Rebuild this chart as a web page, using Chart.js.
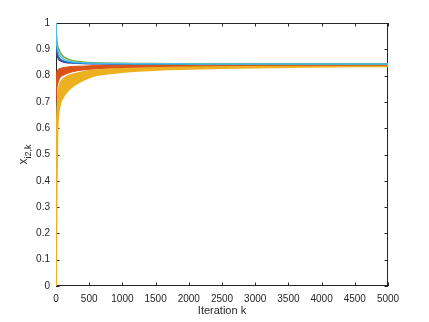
<!DOCTYPE html>
<html>
<head>
<meta charset="utf-8">
<script src="https://cdn.jsdelivr.net/npm/chart.js@4"></script>
<style>
  html, body { margin: 0; padding: 0; background: #fff; }
  canvas { display: block; }
</style>
</head>
<body>
<canvas id="convChart" width="429" height="322"></canvas>
<script>
// iteration numbers sampled along the curves
const iterK = [0, 5, 10, 20, 40, 70, 100, 150, 250, 400, 600, 900, 1300, 1800, 2500, 3500, 5000];

// yellow band (edges)
const yellowUpper = [0, 0.45, 0.60, 0.70, 0.75, 0.775, 0.785, 0.795, 0.805, 0.814, 0.821, 0.826, 0.830, 0.833, 0.836, 0.838, 0.839];
const yellowLower = [0, 0.25, 0.40, 0.58, 0.66, 0.70, 0.715, 0.735, 0.76, 0.782, 0.801, 0.811, 0.819, 0.825, 0.829, 0.833, 0.836];

// red band (edges)
const redUpper = [0.80, 0.81, 0.815, 0.82, 0.825, 0.828, 0.83, 0.832, 0.835, 0.836, 0.838, 0.839, 0.84, 0.841, 0.841, 0.841, 0.841];
const redLower = [0.70, 0.72, 0.74, 0.76, 0.78, 0.795, 0.80, 0.806, 0.815, 0.821, 0.826, 0.83, 0.833, 0.836, 0.838, 0.839, 0.84];

// curves coming down from 1
const greenLine  = [1, 0.96, 0.94, 0.92, 0.90, 0.885, 0.875, 0.866, 0.857, 0.852, 0.849, 0.847, 0.846, 0.845, 0.845, 0.844, 0.844];
const cyanLine   = [1, 0.95, 0.925, 0.905, 0.885, 0.872, 0.865, 0.858, 0.852, 0.849, 0.847, 0.846, 0.845, 0.845, 0.844, 0.844, 0.844];
const blueLine   = [1, 0.93, 0.905, 0.885, 0.87, 0.861, 0.857, 0.852, 0.849, 0.847, 0.846, 0.845, 0.844, 0.844, 0.843, 0.843, 0.843];
const purpleLine = [1, 0.91, 0.89, 0.875, 0.862, 0.856, 0.853, 0.85, 0.848, 0.846, 0.845, 0.844, 0.844, 0.843, 0.843, 0.843, 0.843];

const axisColor = '#262626';
const fontFamily = '"Liberation Sans", Arial, sans-serif';

const pts = (arr) => arr.map((v, i) => ({ x: iterK[i], y: v }));

function lineSet(label, values, color, width, fill) {
    return {
        label,
        data: pts(values),
        borderColor: color,
        backgroundColor: color,
        borderWidth: width,
        pointRadius: 0,
        cubicInterpolationMode: 'monotone',
        fill: fill || false
    };
}

// box and inward ticks, drawn under the data like MATLAB does; y title with subscript
const matlabAxes = {
    id: 'matlabAxes',
    beforeDatasetsDraw(chart) {
        const { ctx, chartArea: a, scales } = chart;
        const tl = 3.5;
        ctx.save();
        ctx.strokeStyle = axisColor;
        ctx.lineWidth = 1;
        ctx.strokeRect(a.left + 0.5, a.top + 0.5, a.right - a.left - 1, a.bottom - a.top - 1);
        ctx.beginPath();
        scales.x.ticks.forEach(t => {
            const px = Math.round(scales.x.getPixelForValue(t.value)) + 0.5;
            ctx.moveTo(px, a.bottom); ctx.lineTo(px, a.bottom - tl);
            ctx.moveTo(px, a.top); ctx.lineTo(px, a.top + tl);
        });
        scales.y.ticks.forEach(t => {
            const py = Math.round(scales.y.getPixelForValue(t.value)) + 0.5;
            ctx.moveTo(a.left, py); ctx.lineTo(a.left + tl, py);
            ctx.moveTo(a.right, py); ctx.lineTo(a.right - tl, py);
        });
        ctx.stroke();
        ctx.restore();
    },
    afterDraw(chart) {
        const { ctx, chartArea: a } = chart;
        ctx.save();
        ctx.translate(27, (a.top + a.bottom) / 2);
        ctx.rotate(-Math.PI / 2);
        ctx.fillStyle = axisColor;
        ctx.textBaseline = 'alphabetic';
        ctx.font = '12px ' + fontFamily;
        const mainW = ctx.measureText('x').width;
        ctx.font = '9px ' + fontFamily;
        const subW = ctx.measureText('i2,k').width;
        const start = -(mainW + subW) / 2;
        ctx.font = '12px ' + fontFamily;
        ctx.fillText('x', start, 0);
        ctx.font = '9px ' + fontFamily;
        ctx.fillText('i2,k', start + mainW, 4);
        ctx.restore();
    }
};

new Chart(document.getElementById('convChart'), {
    type: 'line',
    data: {
        datasets: [
            lineSet('cyan', cyanLine, '#4DBEEE', 1.5),
            lineSet('green', greenLine, '#77AC30', 1.5),
            lineSet('blue', blueLine, '#0072BD', 1.5),
            lineSet('purple', purpleLine, '#7E2F8E', 1.5),
            lineSet('red low', redLower, '#D95319', 1),
            lineSet('red high', redUpper, '#D95319', 1, '-1'),
            lineSet('yellow low', yellowLower, '#EDB120', 2),
            lineSet('yellow high', yellowUpper, '#EDB120', 1.5, '-1')
        ]
    },
    options: {
        responsive: false,
        animation: false,
        layout: { padding: { left: 0, right: 41, top: 23, bottom: 0 } },
        plugins: {
            legend: { display: false },
            tooltip: { enabled: false }
        },
        scales: {
            x: {
                type: 'linear',
                min: 0,
                max: 5000,
                grid: { display: false, drawTicks: false, tickLength: 0 },
                border: { display: false },
                afterFit: (s) => { s.height = 36; },
                ticks: {
                    stepSize: 500,
                    padding: 7,
                    maxRotation: 0,
                    color: axisColor,
                    font: { family: fontFamily, size: 10 },
                    callback: (v) => String(v)
                },
                title: {
                    display: true,
                    text: 'Iteration k',
                    color: axisColor,
                    padding: { top: 0, bottom: 4 },
                    font: { family: fontFamily, size: 11 }
                }
            },
            y: {
                min: 0,
                max: 1,
                grid: { display: false, drawTicks: false, tickLength: 0 },
                border: { display: false },
                afterFit: (s) => { s.width = 56; },
                ticks: {
                    stepSize: 0.1,
                    padding: 6,
                    color: axisColor,
                    font: { family: fontFamily, size: 10 },
                    callback: (v) => String(Math.round(v * 10) / 10)
                }
            }
        }
    },
    plugins: [matlabAxes]
});
</script>
</body>
</html>
